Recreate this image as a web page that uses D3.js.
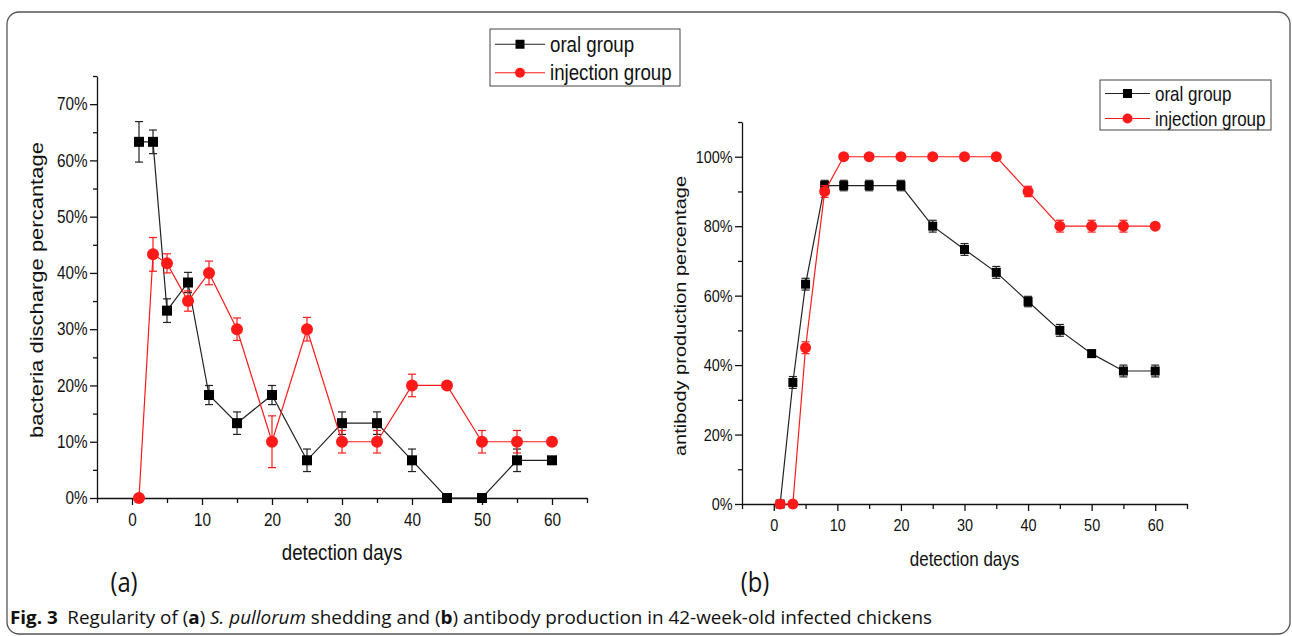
<!DOCTYPE html>
<html>
<head>
<meta charset="utf-8">
<script src="https://cdn.jsdelivr.net/npm/d3@7"></script>
<style>
  body { margin: 0; background: #fff; }
  svg text { font-family: "Liberation Sans", Arial, sans-serif; fill: #111; }
  svg .cap { font-family: "Open Sans", sans-serif; }
</style>
</head>
<body>
<svg id="chart" width="1292" height="636"></svg>
<script>
// detection days (same for both panels)
const days = [1, 3, 5, 8, 11, 15, 20, 25, 30, 35, 40, 45, 50, 55, 60];

// (a) bacteria discharge percentage
const shedOral    = [63.3, 63.3, 33.3, 38.3, 18.3, 13.3, 18.3, 6.7, 13.3, 13.3, 6.7, 0, 0, 6.7, 6.7];
const shedOralErr = [3.6, 2.1, 2.1, 1.8, 1.7, 2.0, 1.7, 2.0, 2.0, 2.0, 2.0, 0, 0, 2.0, 0];
const shedInj     = [0, 43.3, 41.7, 35, 40, 30, 10, 30, 10, 10, 20, 20, 10, 10, 10];
const shedInjErr  = [0, 3.0, 1.7, 1.8, 2.1, 2.0, 4.6, 2.1, 2.0, 2.0, 2.0, 0, 2.0, 2.0, 0];

// (b) antibody production percentage
const abOral    = [0, 35, 63.3, 91.7, 91.7, 91.7, 91.7, 80, 73.3, 66.7, 58.3, 50, 43.3, 38.3, 38.3];
const abOralErr = [0, 1.7, 1.7, 1.5, 1.5, 1.5, 1.5, 1.7, 1.7, 1.7, 1.5, 1.7, 1.0, 1.7, 1.7];
const abInj     = [0, 0, 45, 90, 100, 100, 100, 100, 100, 100, 90, 80, 80, 80, 80];
const abInjErr  = [0, 0, 1.7, 1.7, 0, 0, 0, 0, 0, 0, 1.5, 1.7, 1.7, 1.7, 0];

const seriesNames = ["oral group", "injection group"];
const RED = "#ff1a1a";
const SX = 0.85; // the figure is squeezed horizontally

const svg = d3.select("#chart");

// figure frame
svg.append("rect")
    .attr("x", 7).attr("y", 12)
    .attr("width", 1283).attr("height", 622)
    .attr("rx", 12)
    .attr("fill", "none")
    .attr("stroke", "#555")
    .attr("stroke-width", 1.3);

let squash = (sel) => sel.attr("transform", `scale(${SX},1)`);

let label = (g, txt, x, y, size, rot) => g.append("text")
    .attr("transform", `translate(${x},${y}) scale(${SX},1)` + (rot ? " rotate(-90)" : ""))
    .attr("text-anchor", "middle")
    .style("font-size", size + "px")
    .text(txt);

function panel(p) {
    const g = svg.append("g");
    const x = d3.scaleLinear().domain([-5, 65]).range([p.x0, p.x1]);
    const y = d3.scaleLinear().domain([0, p.yMax]).range([p.y0, p.y1]);

    // x axis: minor ticks every 5, labelled every 10
    g.append("g")
        .attr("transform", `translate(0,${p.y0})`)
        .call(d3.axisBottom(x).tickValues(d3.range(-5, 66, 10)).tickFormat("").tickSize(5).tickSizeOuter(0))
        .call(a => a.selectAll("path,line").attr("stroke", "#111").attr("stroke-width", 1.3));
    g.append("g")
        .attr("transform", `translate(0,${p.y0})`)
        .call(d3.axisBottom(x).tickValues(d3.range(0, 61, 10)).tickSize(7).tickPadding(8).tickSizeOuter(0))
        .call(a => a.select(".domain").remove())
        .call(a => a.selectAll("line").attr("stroke", "#111").attr("stroke-width", 1.3))
        .call(a => a.selectAll("text").style("font-size", p.tick + "px").attr("fill", "#111").call(squash));

    // y axis
    g.append("g")
        .attr("transform", `translate(${p.x0},0)`)
        .call(d3.axisLeft(y).tickValues(d3.range(p.yStep / 2, p.yMax + 0.1, p.yStep)).tickFormat("").tickSize(4).tickSizeOuter(0))
        .call(a => a.selectAll("path,line").attr("stroke", "#111").attr("stroke-width", 1.3));
    g.append("g")
        .attr("transform", `translate(${p.x0},0)`)
        .call(d3.axisLeft(y).tickValues(d3.range(0, p.yMax, p.yStep)).tickFormat(d => d + "%").tickSize(7).tickPadding(4).tickSizeOuter(0))
        .call(a => a.select(".domain").remove())
        .call(a => a.selectAll("line").attr("stroke", "#111").attr("stroke-width", 1.3))
        .call(a => a.selectAll("text").style("font-size", p.tick + "px").attr("fill", "#111").call(squash));

    label(g, "detection days", (p.x0 + p.x1) / 2, p.y0 + 62, p.title, false);
    label(g, p.yTitle, p.yTitleX, (p.y0 + p.y1) / 2 + 3, p.title, true);

    const line = d3.line().x((d, i) => x(days[i])).y(d => y(d));

    p.series.forEach(s => {
        const pts = s.v.map((v, i) => ({ d: days[i], v, e: s.e[i] }));
        g.append("path")
            .attr("d", line(s.v))
            .attr("fill", "none")
            .attr("stroke", s.color)
            .attr("stroke-width", 1.2);

        const eb = g.append("g").attr("stroke", s.color).attr("stroke-width", 1.2);
        pts.filter(d => d.e > 0).forEach(d => {
            const cx = x(d.d), t = y(d.v + d.e), b = y(d.v - d.e);
            eb.append("line").attr("x1", cx).attr("x2", cx).attr("y1", t).attr("y2", b);
            eb.append("line").attr("x1", cx - 4).attr("x2", cx + 4).attr("y1", t).attr("y2", t);
            eb.append("line").attr("x1", cx - 4).attr("x2", cx + 4).attr("y1", b).attr("y2", b);
        });

        if (s.shape === "square") {
            g.selectAll(null).data(pts).enter().append("rect")
                .attr("x", d => x(d.d) - p.sq / 2)
                .attr("y", d => y(d.v) - p.sq / 2)
                .attr("width", p.sq).attr("height", p.sq)
                .attr("fill", "#000");
        } else {
            g.selectAll(null).data(pts).enter().append("circle")
                .attr("cx", d => x(d.d)).attr("cy", d => y(d.v))
                .attr("r", p.r)
                .attr("fill", RED);
        }
    });

    // legend
    const lg = p.legend;
    g.append("rect")
        .attr("x", lg.x).attr("y", lg.y)
        .attr("width", lg.w).attr("height", lg.h)
        .attr("fill", "#fff").attr("stroke", "#444").attr("stroke-width", 1);
    p.series.forEach((s, i) => {
        const cy = lg.y + lg.h * (i * 2 + 1) / 4 + 1;
        g.append("line")
            .attr("x1", lg.x + 5).attr("x2", lg.x + lg.sw)
            .attr("y1", cy).attr("y2", cy)
            .attr("stroke", s.color).attr("stroke-width", 1.2);
        const mx = lg.x + 5 + (lg.sw - 5) / 2;
        if (s.shape === "square") {
            g.append("rect").attr("x", mx - 4.5).attr("y", cy - 4.5).attr("width", 9).attr("height", 9).attr("fill", "#000");
        } else {
            g.append("circle").attr("cx", mx).attr("cy", cy).attr("r", 5).attr("fill", RED);
        }
        g.append("text")
            .attr("transform", `translate(${lg.x + lg.sw + 5},${cy + lg.fs * 0.35}) scale(${SX},1)`)
            .style("font-size", lg.fs + "px")
            .text(seriesNames[i]);
    });
}

panel({
    x0: 97, x1: 587, y0: 498, y1: 76, yMax: 75, yStep: 10,
    tick: 18, title: 22, yTitle: "bacteria discharge percantage", yTitleX: 43,
    sq: 10, r: 6,
    legend: { x: 490, y: 29, w: 190, h: 57, sw: 55, fs: 22 },
    series: [
        { v: shedOral, e: shedOralErr, color: "#222", shape: "square" },
        { v: shedInj, e: shedInjErr, color: RED, shape: "circle" }
    ]
});

panel({
    x0: 742, x1: 1187, y0: 504, y1: 122, yMax: 110, yStep: 20,
    tick: 17, title: 20, yTitle: "antibody production percentage", yTitleX: 686,
    sq: 9, r: 5.5,
    legend: { x: 1100, y: 80, w: 171, h: 50, sw: 50, fs: 20 },
    series: [
        { v: abOral, e: abOralErr, color: "#222", shape: "square" },
        { v: abInj, e: abInjErr, color: RED, shape: "circle" }
    ]
});

// panel letters
svg.append("text").attr("class", "cap")
    .attr("transform", `translate(124,592) scale(${SX},1)`)
    .attr("text-anchor", "middle")
    .style("font-size", "28px")
    .text("(a)");
svg.append("text").attr("class", "cap")
    .attr("transform", `translate(755,592) scale(${SX},1)`)
    .attr("text-anchor", "middle")
    .style("font-size", "28px")
    .text("(b)");

// caption
const cap = svg.append("text").attr("class", "cap")
    .attr("x", 10).attr("y", 624)
    .attr("textLength", 922).attr("lengthAdjust", "spacingAndGlyphs")
    .style("font-size", "18.5px");
cap.append("tspan").style("font-weight", "bold").text("Fig. 3");
cap.append("tspan").text("\u2002Regularity of (");
cap.append("tspan").style("font-weight", "bold").text("a");
cap.append("tspan").text(") ");
cap.append("tspan").style("font-style", "italic").text("S. pullorum");
cap.append("tspan").text(" shedding and (");
cap.append("tspan").style("font-weight", "bold").text("b");
cap.append("tspan").text(") antibody production in 42-week-old infected chickens");
</script>
</body>
</html>
